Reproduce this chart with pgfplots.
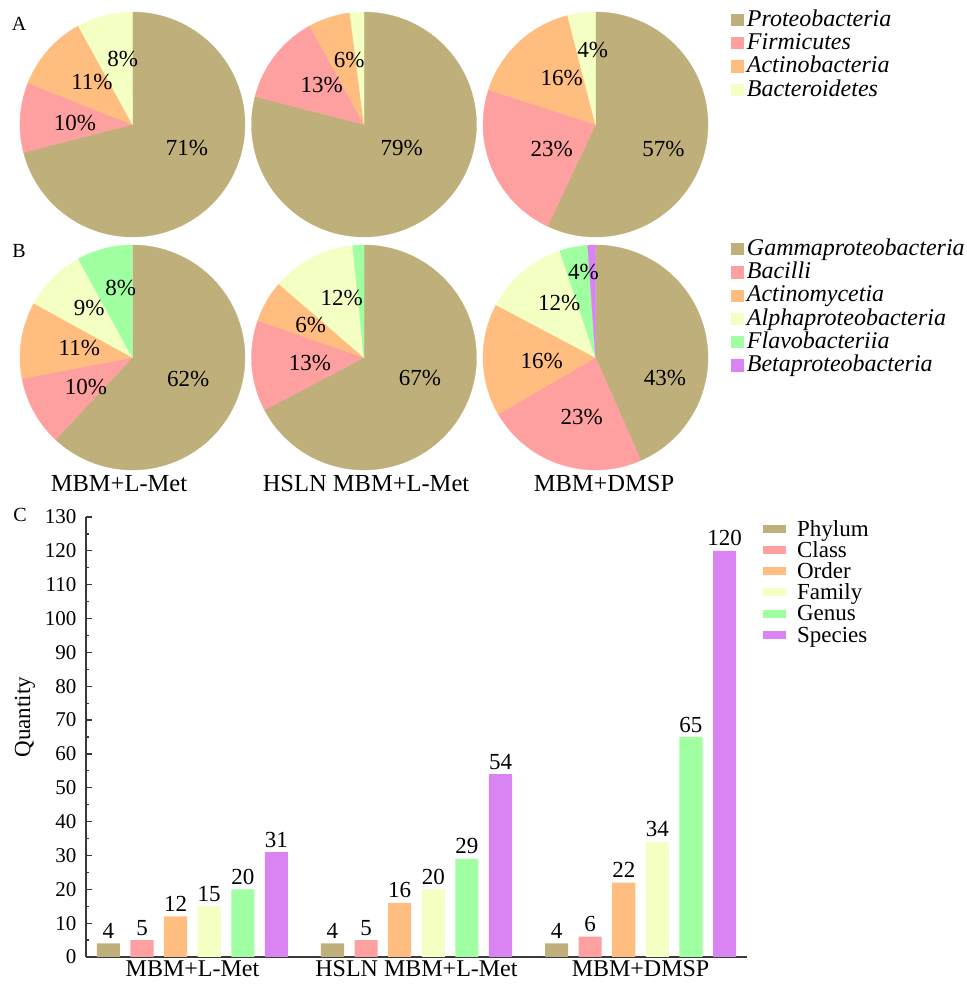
\documentclass[border=0pt]{standalone}
\usepackage{fontspec}
\setmainfont{Liberation Serif}
\usepackage{pgfplots}
\pgfplotsset{compat=1.18}

\definecolor{cP}{HTML}{BFB07B}
\definecolor{cF}{HTML}{FFA0A0}
\definecolor{cA}{HTML}{FFBE80}
\definecolor{cY}{HTML}{F4FFC4}
\definecolor{cG}{HTML}{A0FFA0}
\definecolor{cV}{HTML}{DA84F4}
\definecolor{axisgray}{HTML}{3A3A3A}

\newcommand\fs[1]{\fontsize{#1}{#1}\selectfont}

% #1 = total of the shares, #2 = list of share/colour pairs, drawn clockwise from 12 o'clock
\newcommand\piechart[2]{%
  \gdef\pcum{0}%
  \pgfmathsetmacro\degper{360/#1}%
  \foreach \val/\col in {#2}{%
    \pgfmathsetmacro\angB{90-\degper*\pcum}%
    \pgfmathsetmacro\pnext{\pcum+\val}%
    \pgfmathsetmacro\angA{90-\degper*\pnext}%
    \xdef\pcum{\pnext}%
    \edef\doslice{\noexpand\addplot[forget plot, fill=\col, draw=\col, line width=0.3pt,
        domain=\angA:\angB, samples=90] ({cos(x)},{sin(x)}) -- (0,0) -- cycle;}%
    \doslice
  }%
}

\tikzset{pct/.style={font=\fs{23}}}
\pgfplotsset{
  /pgf/number format/assume math mode=true,
  pie/.style={width=225pt, height=225pt, scale only axis, hide axis,
    xmin=-1, xmax=1, ymin=-1, ymax=1, clip=false, anchor=center},
  pielegend/.style={legend style={at={(axis description cs:1.101,#1)}, anchor=north west,
      draw=none, fill=none, inner sep=0pt, row sep=0pt, column sep=3pt,
      font=\fs{24}\itshape, nodes={inner sep=0pt, text height=16pt, text depth=7.3pt}},
    legend cell align=left},
  pieimg/.style={legend image code/.code={\fill[##1] (0pt,-4.3pt) rectangle (13pt,8pt);}},
  barleg/.style={legend image code/.code={\fill[##1] (0pt,-1pt) rectangle (23pt,7pt);}},
  rank/.style={ybar, bar width=0.103, bar shift=0pt, fill=#1, draw=none, barleg},
}

\begin{document}
\begin{tikzpicture}
\useasboundingbox (0,0) rectangle (967pt,989pt);

% ---------- A: phylum ----------
\begin{axis}[pie, at={(132.5pt,864.5pt)}]
  \piechart{100}{71/cP,10/cF,11/cA,8/cY}
  \node[pct] at (axis cs:0.484,-0.209) {71\%};
  \node[pct] at (axis cs:-0.511,0.013) {10\%};
  \node[pct] at (axis cs:-0.36,0.378) {11\%};
  \node[pct] at (axis cs:-0.087,0.582) {8\%};
\end{axis}

\begin{axis}[pie, at={(364pt,864.5pt)}]
  \piechart{100}{79/cP,13/cF,6/cA,2/cY}
  \node[pct] at (axis cs:0.335,-0.212) {79\%};
  \node[pct] at (axis cs:-0.376,0.351) {13\%};
  \node[pct] at (axis cs:-0.131,0.573) {6\%};
\end{axis}

\begin{axis}[pie, at={(595.5pt,864.5pt)}, pielegend=1.009, pieimg]
  \piechart{100}{57/cP,23/cF,16/cA,4/cY}
  \node[pct] at (axis cs:0.603,-0.221) {57\%};
  \node[pct] at (axis cs:-0.39,-0.221) {23\%};
  \node[pct] at (axis cs:-0.3,0.41) {16\%};
  \node[pct] at (axis cs:-0.025,0.662) {4\%};
  \addlegendimage{fill=cP, draw=none}\addlegendentry{Proteobacteria}
  \addlegendimage{fill=cF, draw=none}\addlegendentry{Firmicutes}
  \addlegendimage{fill=cA, draw=none}\addlegendentry{Actinobacteria}
  \addlegendimage{fill=cY, draw=none}\addlegendentry{Bacteroidetes}
\end{axis}

% ---------- B: class ----------
\begin{axis}[pie, at={(132.5pt,631.5pt)}]
  \piechart{100}{62/cP,10/cF,11/cA,9/cY,8/cG}
  \node[pct] at (axis cs:0.496,-0.191) {62\%};
  \node[pct] at (axis cs:-0.413,-0.259) {10\%};
  \node[pct] at (axis cs:-0.473,0.082) {11\%};
  \node[pct] at (axis cs:-0.384,0.443) {9\%};
  \node[pct] at (axis cs:-0.105,0.615) {8\%};
\end{axis}

\begin{axis}[pie, at={(364pt,631.5pt)}]
  \piechart{99.6}{67/cP,13/cF,6/cA,12/cY,1.6/cG}
  \node[pct] at (axis cs:0.498,-0.185) {67\%};
  \node[pct] at (axis cs:-0.48,-0.052) {13\%};
  \node[pct] at (axis cs:-0.474,0.289) {6\%};
  \node[pct] at (axis cs:-0.198,0.532) {12\%};
\end{axis}

\begin{axis}[pie, at={(595.5pt,631.5pt)}, pielegend=1.026, pieimg]
  \piechart{99.1}{43/cP,23/cF,16/cA,12/cY,4/cG,1.1/cV}
  \node[pct] at (axis cs:0.618,-0.185) {43\%};
  \node[pct] at (axis cs:-0.123,-0.532) {23\%};
  \node[pct] at (axis cs:-0.478,-0.028) {16\%};
  \node[pct] at (axis cs:-0.322,0.482) {12\%};
  \node[pct] at (axis cs:-0.108,0.763) {4\%};
  \addlegendimage{fill=cP, draw=none}\addlegendentry{Gammaproteobacteria}
  \addlegendimage{fill=cF, draw=none}\addlegendentry{Bacilli}
  \addlegendimage{fill=cA, draw=none}\addlegendentry{Actinomycetia}
  \addlegendimage{fill=cY, draw=none}\addlegendentry{Alphaproteobacteria}
  \addlegendimage{fill=cG, draw=none}\addlegendentry{Flavobacteriia}
  \addlegendimage{fill=cV, draw=none}\addlegendentry{Betaproteobacteria}
\end{axis}

% sample names under the pies
\node[font=\fs{24.5}] at (119pt,505.7pt) {MBM+L-Met};
\node[font=\fs{24.5}] at (366pt,505.7pt) {HSLN MBM+L-Met};
\node[font=\fs{24.5}] at (604pt,505.7pt) {MBM+DMSP};

% panel letters
\node[font=\fs{20}] at (19pt,965pt) {A};
\node[font=\fs{20}] at (19pt,738pt) {B};
\node[font=\fs{20}] at (20pt,474pt) {C};

% ---------- C: taxa counts ----------
% groups sit at x = 0, 1, 2; ranks are offset by 0.15 within a group
\begin{axis}[
  at={(86pt,32pt)}, anchor=south west,
  width=661pt, height=440pt, scale only axis,
  xmin=-0.475, xmax=2.475, ymin=0, ymax=130,
  axis x line*=bottom, axis y line*=left,
  axis line style={axisgray, line width=1.3pt},
  xtick={0,1,2}, xticklabels={MBM+L-Met, HSLN MBM+L-Met, MBM+DMSP},
  x tick style={draw=none},
  ytick={0,10,...,130}, minor y tick num=1,
  tick align=inside, major tick length=6pt, minor tick length=3.5pt,
  y tick style={axisgray, line width=1.2pt},
  yticklabel style={font=\fs{21}, xshift=-6pt},
  xticklabel style={font=\fs{24}},
  ylabel={Quantity},
  ylabel style={font=\fs{23}, at={(axis description cs:-0.0923,0.545)}, anchor=center},
  nodes near coords,
  every node near coord/.append style={font=\fs{23}, anchor=south, inner sep=0pt, yshift=4.5pt, text=black},
  legend style={at={(axis description cs:1.024,0.991)}, anchor=north west,
    draw=none, fill=none, inner sep=0pt, column sep=11pt, row sep=0pt,
    font=\fs{23}, nodes={inner sep=0pt, text height=15pt, text depth=6.2pt}},
  legend cell align=left,
]
  \addplot[rank=cP] coordinates {(-0.375,4) (0.625,4) (1.625,4)};
  \addlegendentry{Phylum}
  \addplot[rank=cF] coordinates {(-0.225,5) (0.775,5) (1.775,6)};
  \addlegendentry{Class}
  \addplot[rank=cA] coordinates {(-0.075,12) (0.925,16) (1.925,22)};
  \addlegendentry{Order}
  \addplot[rank=cY] coordinates {(0.075,15) (1.075,20) (2.075,34)};
  \addlegendentry{Family}
  \addplot[rank=cG] coordinates {(0.225,20) (1.225,29) (2.225,65)};
  \addlegendentry{Genus}
  \addplot[rank=cV] coordinates {(0.375,31) (1.375,54) (2.375,120)};
  \addlegendentry{Species}
\end{axis}
\end{tikzpicture}
\end{document}
